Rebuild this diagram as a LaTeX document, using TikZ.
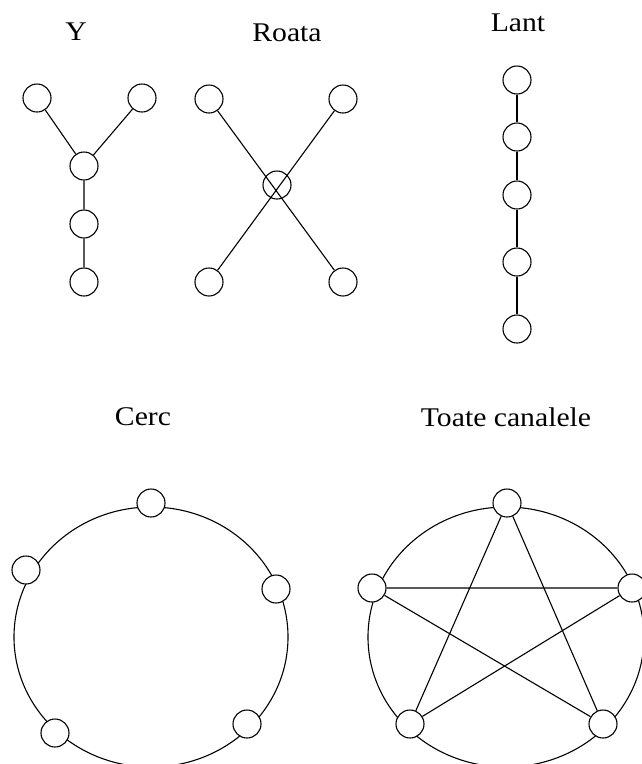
\documentclass[tikz,border=0pt]{standalone}
\usepackage{fontspec}
\setmainfont[FakeStretch=1.1]{Liberation Serif}
\tikzset{
  member/.style={circle,draw=black,fill=white,line width=1.1pt,
    minimum size=28pt,inner sep=0pt},
  hub/.style={member,fill=none},
  channel/.style={draw=black,line width=1.1pt},
  netlabel/.style={font=\fontsize{27}{30}\selectfont,inner sep=0pt}
}
\begin{document}
\begin{tikzpicture}[x=1pt,y=-1pt]
  \useasboundingbox (0,0) rectangle (642,764);
  % titles
  \node[netlabel] (ty) at (76,32) {Y};
  \node[netlabel] (tr) at (287,33) {Roata};
  \node[netlabel] (tl) at (518,23) {Lant};
  \node[netlabel] (tc) at (143,417) {Cerc};
  \node[netlabel] (tt) at (506,417) {Toate canalele};
  % Y
  \node[member] (y1) at (37,98) {};
  \node[member] (y2) at (142,98) {};
  \node[member] (y3) at (84,166) {};
  \node[member] (y4) at (84,224) {};
  \node[member] (y5) at (84,282) {};
  \draw[channel] (y1)--(y3) (y2)--(y3) (y3)--(y4)--(y5);
  % Roata
  \node[hub] (r0) at (277,185) {};
  \node[member] (r1) at (209,99) {};
  \node[member] (r2) at (343,99) {};
  \node[member] (r3) at (209,282) {};
  \node[member] (r4) at (343,282) {};
  \draw[channel] (r1)--(r4) (r2)--(r3);
  % Lant
  \foreach \i/\y in {1/80,2/137,3/195,4/262,5/329}
    \node[member] (l\i) at (517,\y) {};
  \draw[channel] (l1)--(l2)--(l3)--(l4)--(l5);
  % Cerc
  \draw[channel] (151,637) ellipse [x radius=137,y radius=130];
  \node[member] (c1) at (151,503) {};
  \node[member] (c2) at (276,589) {};
  \node[member] (c3) at (247,724) {};
  \node[member] (c4) at (55,733) {};
  \node[member] (c5) at (26,570) {};
  % Toate canalele
  \draw[channel] (506,637) ellipse [x radius=138,y radius=130];
  \node[member] (t1) at (507,503) {};
  \node[member] (t2) at (632,588) {};
  \node[member] (t3) at (603,724) {};
  \node[member] (t4) at (410,724) {};
  \node[member] (t5) at (372,588) {};
  \draw[channel] (t1)--(t3) (t1)--(t4) (t5)--(t2) (t5)--(t3) (t2)--(t4);
\end{tikzpicture}
\end{document}
